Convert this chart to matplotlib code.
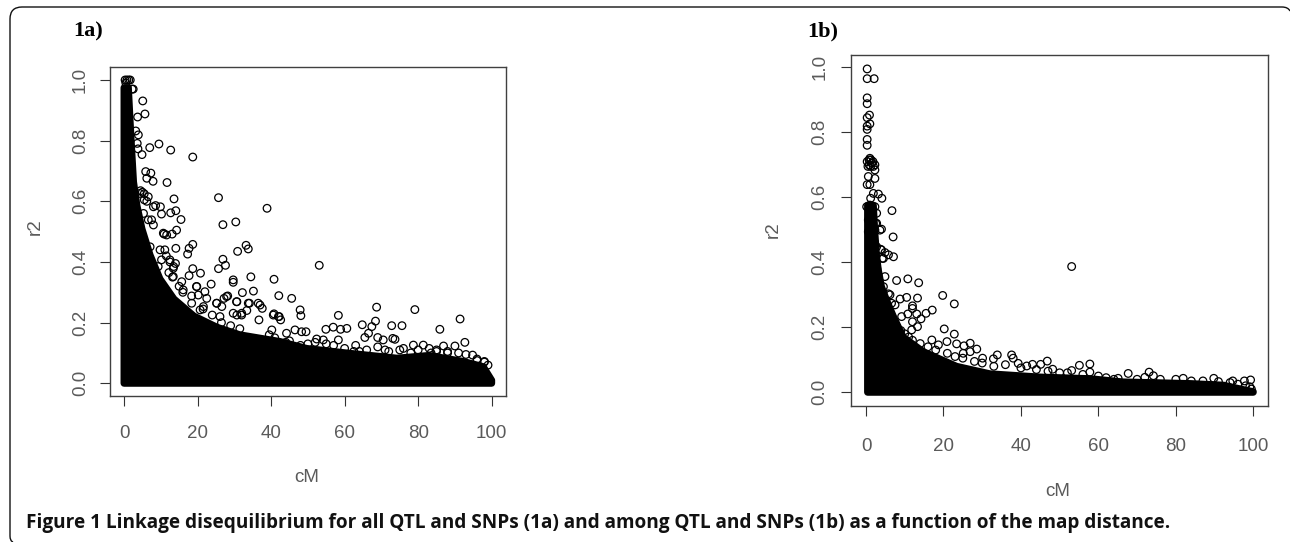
import matplotlib
matplotlib.use("Agg")
import matplotlib.pyplot as plt
from matplotlib.patches import PathPatch
from matplotlib.path import Path

W, H = 1290, 542
GREY = "#5a5a5a"

# panel 1a: solid mass outline (x, r2) and the loose points around it
env_a_x = [0, 0, 1.2, 1.6, 2.0, 2.6, 3.5, 4.9, 7.1, 9.8, 13.6, 19, 25.3, 31.5, 42.4,
           49.7, 60.6, 74.2, 83, 92.3, 97.7, 100, 100]
env_a_y = [0, 0.975, 0.975, 0.88, 0.79, 0.664, 0.588, 0.509, 0.423, 0.344, 0.278, 0.222,
           0.185, 0.16, 0.138, 0.115, 0.1, 0.083, 0.092, 0.072, 0.055, 0.01, 0]

pts_a_x = [0.3, 0.8, 1.3, 1.7, 0.5, 2.2, 2.5, 5.1, 5.7, 3.7, 3.2, 3.9, 3.6, 3.8, 4.9, 7.0, 9.5,
           12.7, 18.7, 5.9, 7.3, 6.2, 7.9, 11.7, 13.6, 25.7, 38.9, 8.6, 9.9, 10.2, 12.7, 14.1,
           15.5, 26.9, 30.4, 10.9, 13.1, 14.3, 14.1, 18.7, 17.7, 17.3, 33.2, 33.8, 30.9, 26.9,
           27.6, 25.7, 53.1, 18.7, 20.8, 17.7, 29.7, 29.7, 34.5, 40.8, 23.7, 35.2, 32.2, 42.1,
           45.6, 28.2, 27.2, 30.7, 34.1, 36.5, 37.6, 47.9, 48.1, 68.7, 79.1, 91.4, 58.3, 68.4,
           40.8, 42.2, 42.6, 36.7, 64.8, 67.4, 72.8, 75.6, 56.9, 54.9, 58.9, 60.6, 85.9, 48.3,
           49.5, 46.5, 66.5, 65.5, 69, 70.5, 73.1, 73.7, 78.7, 81.4, 86.9, 90, 92.7, 94.8, 52.4,
           58.3, 54.2, 32, 30.7, 33.4, 18.4, 19.7, 22, 25.2, 20.7, 11.5, 12.5, 13.5, 12.2, 13.2,
           14, 16, 15, 21.5, 24, 26.5, 29, 31.5, 39.5, 41, 44, 62.5, 64, 71, 76, 83.5, 85, 88,
           96, 98]
pts_a_y = [1.0, 1.0, 1.0, 1.0, 0.99, 0.97, 0.97, 0.931, 0.888, 0.878, 0.832, 0.819, 0.791, 0.773,
           0.754, 0.777, 0.789, 0.769, 0.746, 0.698, 0.693, 0.676, 0.666, 0.662, 0.608, 0.612,
           0.577, 0.586, 0.582, 0.558, 0.562, 0.569, 0.540, 0.523, 0.532, 0.492, 0.492, 0.505,
           0.445, 0.458, 0.445, 0.426, 0.455, 0.443, 0.435, 0.409, 0.389, 0.378, 0.389, 0.378,
           0.363, 0.355, 0.341, 0.333, 0.351, 0.343, 0.327, 0.304, 0.299, 0.289, 0.280, 0.288,
           0.280, 0.269, 0.264, 0.264, 0.247, 0.242, 0.223, 0.251, 0.243, 0.212, 0.224, 0.205,
           0.229, 0.220, 0.209, 0.209, 0.193, 0.187, 0.190, 0.190, 0.185, 0.178, 0.178, 0.181,
           0.178, 0.170, 0.170, 0.176, 0.165, 0.151, 0.151, 0.143, 0.148, 0.145, 0.126, 0.126,
           0.123, 0.123, 0.135, 0.093, 0.146, 0.143, 0.143, 0.225, 0.225, 0.240, 0.288, 0.319,
           0.302, 0.264, 0.242, 0.42, 0.40, 0.385, 0.365, 0.35, 0.395, 0.30, 0.32, 0.245, 0.225,
           0.20, 0.19, 0.18, 0.16, 0.15, 0.135, 0.105, 0.105, 0.11, 0.115, 0.10, 0.105, 0.10,
           0.08, 0.07]

# crowded points along the edge of the 1a mass
edge_a_x = [7.5, 8, 10.7, 11.6, 9.8, 11.1, 12.5, 13.4, 10.2, 9.3, 15.7, 19.8, 20.2, 22.5, 18.4,
            21.6, 25.2, 26.6, 27.9, 30.6, 32, 33.8, 37, 40.6, 42, 40.2, 44.2, 29.7, 26.1, 16.1,
            13.4, 8, 6.6, 4.3, 7.1, 5.3, 6.6, 5, 5.5, 4.5, 5.5, 6.2, 45, 48, 50, 52, 55, 57, 60,
            63, 66, 69, 72, 75, 78, 80, 83, 85, 88, 91, 93, 96, 98, 99]
edge_a_y = [0.539, 0.522, 0.495, 0.489, 0.44, 0.44, 0.407, 0.379, 0.407, 0.385, 0.335, 0.319,
            0.291, 0.28, 0.264, 0.253, 0.264, 0.253, 0.286, 0.269, 0.231, 0.264, 0.258, 0.225,
            0.22, 0.176, 0.165, 0.231, 0.22, 0.308, 0.352, 0.582, 0.615, 0.626, 0.45, 0.56,
            0.539, 0.63, 0.625, 0.635, 0.605, 0.6, 0.14, 0.125, 0.13, 0.135, 0.13, 0.125, 0.115,
            0.125, 0.11, 0.12, 0.105, 0.11, 0.1, 0.11, 0.115, 0.11, 0.105, 0.1, 0.095, 0.075,
            0.072, 0.06]

# panel 1b
env_b_x = [0.4, 0.4, 1.9, 2.3, 2.75, 3.2, 4, 5.3, 7.1, 9.6, 14.8, 23.4, 32, 44.9, 57.8, 66.4,
           83.6, 92.3, 98.7, 100, 100]
env_b_y = [0, 0.576, 0.576, 0.49, 0.417, 0.376, 0.325, 0.284, 0.233, 0.17, 0.125, 0.08, 0.057,
           0.047, 0.042, 0.032, 0.027, 0.022, 0.005, 0.002, 0]

pts_b_x = [0.3, 0.3, 2.1, 0.3, 0.3, 0.9, 0.3, 0.3, 1, 0.3, 0.3, 0.3, 2.3, 2.3, 0.6, 0.3, 1, 1.9,
           3.2, 4.1, 1.2, 6.7, 4, 7, 3.8, 4.9, 5.8, 7.1, 4.2, 53.1, 0.3, 0.8, 1.3, 1.8, 2.3,
           0.5, 1.2, 1.9, 0.8, 1.5, 1, 2.5, 2.8, 2.2, 3, 3.5, 7.9, 10.8, 13.6, 19.8, 22.8, 5.8,
           7.5, 8.8, 10.5, 13.3, 12, 12, 10.8, 13.1, 15.5, 17.1, 14.2, 12, 9.2, 13.3, 11.8,
           20.2, 22.8, 20.9, 17, 18.7, 23.4, 25.3, 26.9, 28.6, 25.1, 26.9, 30.1, 32.9, 33.9,
           37.6, 38, 39.3, 41.5, 43, 45.1, 46.8, 48.2, 53.1, 55.1, 57.8, 57.8, 67.7, 73.1, 74.2,
           81.9, 89.8, 94.7, 97.7, 99.3, 99.1, 65.1, 72]
pts_b_y = [0.995, 0.965, 0.965, 0.906, 0.888, 0.853, 0.845, 0.819, 0.826, 0.809, 0.778, 0.76,
           0.684, 0.658, 0.664, 0.639, 0.639, 0.612, 0.610, 0.597, 0.597, 0.559, 0.502, 0.478,
           0.44, 0.43, 0.423, 0.417, 0.412, 0.387, 0.71, 0.715, 0.715, 0.71, 0.70, 0.695, 0.695,
           0.695, 0.70, 0.705, 0.72, 0.52, 0.38, 0.46, 0.35, 0.335, 0.344, 0.349, 0.337, 0.298,
           0.272, 0.303, 0.269, 0.287, 0.292, 0.29, 0.266, 0.258, 0.241, 0.241, 0.243, 0.253,
           0.226, 0.217, 0.233, 0.202, 0.192, 0.195, 0.179, 0.156, 0.161, 0.146, 0.149, 0.143,
           0.151, 0.133, 0.12, 0.125, 0.105, 0.103, 0.115, 0.115, 0.105, 0.089, 0.081, 0.086,
           0.086, 0.096, 0.071, 0.067, 0.083, 0.087, 0.062, 0.058, 0.062, 0.051, 0.043, 0.043,
           0.035, 0.035, 0.038, 0.017, 0.043, 0.046]

edge_b_x = [1.03, 2.3, 2.75, 0.17, 0.6, 2.75, 3.6, 2.3, 0.6, 2.75, 4.0, 4.5, 4.9, 4.5, 6.2, 6.6,
            8, 9, 10, 11, 12, 14, 16, 18, 21, 23, 25, 28, 30, 33, 36, 40, 44, 47, 50, 52, 56,
            60, 62, 64, 70, 76, 80, 84, 87, 91, 94, 96, 98, 99.5]
edge_b_y = [0.576, 0.571, 0.551, 0.571, 0.53, 0.52, 0.499, 0.499, 0.494, 0.448, 0.438, 0.412,
            0.356, 0.325, 0.3, 0.274, 0.2, 0.19, 0.18, 0.17, 0.16, 0.15, 0.14, 0.13, 0.12, 0.11,
            0.105, 0.095, 0.09, 0.08, 0.085, 0.075, 0.07, 0.065, 0.06, 0.06, 0.055, 0.05, 0.045,
            0.04, 0.04, 0.04, 0.04, 0.035, 0.035, 0.033, 0.03, 0.025, 0.02, 0.01]

x_ticks = [0, 20, 40, 60, 80, 100]
y_ticks = [0.0, 0.2, 0.4, 0.6, 0.8, 1.0]

fig = plt.figure(figsize=(W / 100, H / 100), dpi=100, facecolor="white")


def draw_panel(box, x0, x100, y0, y1, env_x, env_y, px, py, x_pad, y_pad):
    left, right, top, bottom = box
    ax = fig.add_axes([left / W, 1 - bottom / H, (right - left) / W, (bottom - top) / H])
    x_scale = (x100 - x0) / 100
    y_scale = y0 - y1
    ax.set_xlim((left - x0) / x_scale, (right - x0) / x_scale)
    ax.set_ylim((y0 - bottom) / y_scale, (y0 - top) / y_scale)

    # the overplotted points merge into a solid shape, thick edge rounds it off
    ax.fill(env_x, env_y, facecolor="black", edgecolor="black",
            linewidth=5, joinstyle="round", zorder=2)
    ax.scatter(px, py, s=30, facecolors="none", edgecolors="black", linewidths=0.9, zorder=3)

    ax.set_xticks(x_ticks)
    ax.set_yticks(y_ticks)
    ax.set_xticklabels([str(t) for t in x_ticks], family="Liberation Sans", fontsize=13.5, color=GREY)
    ax.set_yticklabels([f"{t:.1f}" for t in y_ticks], family="Liberation Sans", fontsize=13.5,
                       color=GREY, rotation=90, va="center")
    ax.tick_params(axis="x", length=7.2, width=0.8, color="#333333", pad=x_pad)
    ax.tick_params(axis="y", length=7.2, width=0.8, color="#333333", pad=y_pad)
    for spine in ax.spines.values():
        spine.set_linewidth(1.0)
        spine.set_color("#404040")
    return ax


draw_panel((110, 505.7, 67, 396), 124, 491.7, 383.3, 80, env_a_x, env_a_y,
           pts_a_x + edge_a_x, pts_a_y + edge_a_y, 14, 8)
draw_panel((851, 1268.3, 55, 406), 866, 1253.3, 392.3, 67.3, env_b_x, env_b_y,
           pts_b_x + edge_b_x, pts_b_y + edge_b_y, 15.5, 9)

# rounded frame and page level text, placed in pixels; right and bottom stay open
bg = fig.add_axes([0, 0, 1, 1], zorder=-1)
bg.set_xlim(0, W)
bg.set_ylim(H, 0)
bg.axis("off")
frame = Path([(1290, 11), (1288, 7), (1282, 7), (22, 7), (10, 7), (10, 19), (10, 536), (10, 541), (13, 542)],
             [Path.MOVETO, Path.CURVE3, Path.CURVE3, Path.LINETO, Path.CURVE3, Path.CURVE3,
              Path.LINETO, Path.CURVE3, Path.CURVE3])
bg.add_patch(PathPatch(frame, facecolor="none", edgecolor="#111111", linewidth=1.0))

labels = [
    ("1a)", 73, 31.5),
    ("1b)", 807, 31.5),
]
for txt, x, y in labels:
    bg.text(x, y, txt, family="Liberation Serif", fontweight="bold", fontsize=16,
            va="center", ha="left", color="black")

for txt, x, y, rot in [("r2", 35, 227, 90), ("cM", 307, 477, 0),
                       ("r2", 773, 230, 90), ("cM", 1058, 492, 0)]:
    bg.text(x, y, txt, family="Liberation Sans", fontsize=13.5, color=GREY,
            ha="center", va="center", rotation=rot)

bg.text(26, 523, "Figure 1 Linkage disequilibrium for all QTL and SNPs (1a) and among QTL and SNPs (1b) "
        "as a function of the map distance.", family="Open Sans", fontweight="bold",
        fontsize=13.7, color="#111111", ha="left", va="center")

fig.savefig("out.png", dpi=100)
